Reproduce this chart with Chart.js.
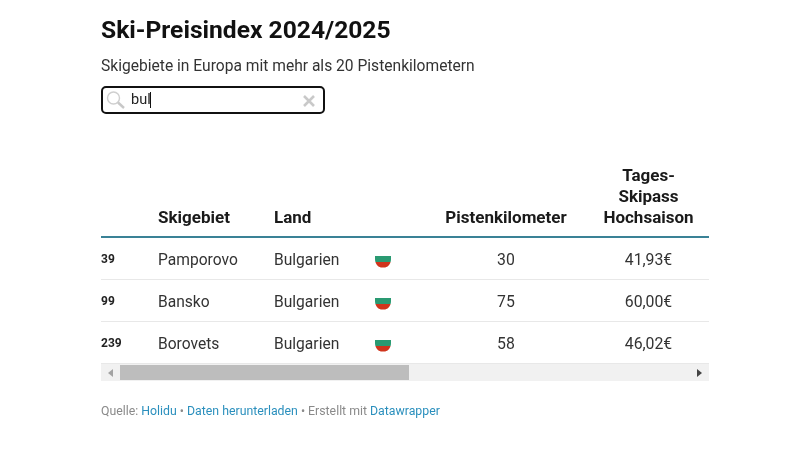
<!DOCTYPE html>
<html lang="de"><head><meta charset="utf-8">
<style>
html,body{margin:0;padding:0;background:#fff;width:800px;height:450px;overflow:hidden;font-family:Roboto,sans-serif}
#c{position:absolute;left:0;top:0;width:800px;height:450px}
.t{position:absolute;white-space:nowrap}
#title{left:101px;top:15px;font-size:24.6px;line-height:30px;font-weight:700;color:#111}
#sub{left:101px;top:56px;font-size:15.6px;line-height:20px;color:#333}
#box{position:absolute;left:101px;top:86px;width:220px;height:24px;border:2px solid #111;border-radius:5px;background:#fff}
#q{left:131px;top:91px;font-size:14.5px;line-height:18px;color:#222}
#caret{position:absolute;left:150px;top:92px;width:1px;height:16px;background:#111}
#track{position:absolute;left:101px;top:364px;width:608px;height:17px;background:#f1f1f1}
#thumb{position:absolute;left:120px;top:365px;width:289px;height:15px;background:#bdbdbd}
#la{position:absolute;left:108px;top:369px;border:4px solid transparent;border-left:0;border-right:5px solid #a3a3a3}
#ra{position:absolute;left:697px;top:369px;border:4px solid transparent;border-right:0;border-left:5px solid #444}
#foot{left:101px;top:404px;font-size:12.3px;line-height:15px;color:#8a8a8a}
#foot a{color:#2a8fbd;text-decoration:none}
svg{position:absolute}
</style></head><body>
<canvas id="c" width="800" height="450"></canvas>
<div class="t" id="title">Ski-Preisindex 2024/2025</div>
<div class="t" id="sub">Skigebiete in Europa mit mehr als 20 Pistenkilometern</div>
<div id="box"></div>
<svg style="left:105px;top:90px" width="22" height="20" viewBox="0 0 22 20"><circle cx="8.5" cy="8" r="6" fill="none" stroke="#cfcfcf" stroke-width="1.4"/><line x1="13" y1="12.5" x2="19" y2="18" stroke="#c8c8c8" stroke-width="2.4"/></svg>
<div class="t" id="q">bul</div><div id="caret"></div>
<svg style="left:302px;top:94px" width="14" height="14" viewBox="0 0 14 14"><path d="M2 2L12 12M12 2L2 12" stroke="#c9c9c9" stroke-width="2.6"/></svg>
<div id="track"></div><div id="thumb"></div><div id="la"></div><div id="ra"></div>
<div class="t" id="foot">Quelle: <a>Holidu</a> • <a>Daten herunterladen</a> • Erstellt mit <a>Datawrapper</a></div>
<script src="https://cdn.jsdelivr.net/npm/chart.js@4/dist/chart.umd.min.js"></script>
<script>
const ranks = [39, 99, 239];
const resorts = ['Pamporovo', 'Bansko', 'Borovets'];
const countries = ['Bulgarien', 'Bulgarien', 'Bulgarien'];
const pisteKm = [30, 75, 58];
const prices = [41.93, 60.00, 46.02];
const headers = [[], ['Skigebiet'], ['Land'], [], ['Pistenkilometer'], ['Tages-', 'Skipass', 'Hochsaison']];
const fmtPrice = v => v.toFixed(2).replace('.', ',') + '€';

// column anchors on the table's x scale
const colX = {rank: 0, resort: 57, land: 173, flag: 282, piste: 405, price: 547.5};

function flagIcon() {
  const c = document.createElement('canvas'); c.width = 16; c.height = 20;
  const g = c.getContext('2d');
  g.beginPath(); g.moveTo(0, 8); g.lineTo(16, 8); g.lineTo(16, 11);
  g.bezierCurveTo(16, 17, 12, 19.5, 9, 19.5); g.lineTo(7, 19.5); g.bezierCurveTo(4, 19.5, 0, 17, 0, 11); g.closePath(); g.clip();
  g.fillStyle = '#2a9a72'; g.fillRect(0, 8, 16, 6);
  g.fillStyle = '#d0341c'; g.fillRect(0, 14, 16, 6);
  return c;
}

const cellText = {
  id: 'cellText',
  afterDatasetsDraw(chart) {
    const {ctx, scales: {x, y}} = chart;
    ctx.save();
    ctx.textBaseline = 'middle';
    const put = (s, col, row, font, color, align, dy) => {
      ctx.font = font; ctx.fillStyle = color; ctx.textAlign = align;
      ctx.fillText(s, x.getPixelForValue(colX[col]), y.getPixelForValue(row) + dy);
    };
    resorts.forEach((r, i) => {
      put(String(ranks[i]), 'rank', i, '700 12px Roboto', '#222', 'left', 1.5);
      put(r, 'resort', i, '400 15.6px Roboto', '#333', 'left', 3);
      put(countries[i], 'land', i, '400 15.6px Roboto', '#333', 'left', 3);
      put(String(pisteKm[i]), 'piste', i, '400 15.8px Roboto', '#333', 'center', 3);
      put(fmtPrice(prices[i]), 'price', i, '400 15.8px Roboto', '#333', 'center', 3);
    });
    // header lines stack upward from the top of the first row
    const cols = ['rank', 'resort', 'land', 'flag', 'piste', 'price'];
    ctx.font = '700 17px Roboto'; ctx.fillStyle = '#1a1a1a';
    headers.forEach((lines, i) => {
      ctx.textAlign = i < 3 ? 'left' : 'center';
      lines.forEach((s, k) => {
        ctx.fillText(s, x.getPixelForValue(colX[cols[i]]), y.top - 18 - 21 * (lines.length - 1 - k));
      });
    });
    ctx.restore();
  }
};

new Chart(document.getElementById('c'), {
  type: 'scatter',
  data: {
    labels: resorts,
    datasets: [{
      label: 'Flagge',
      data: resorts.map(r => ({x: colX.flag, y: r})),
      pointStyle: flagIcon(),
      pointRadius: 8
    }]
  },
  options: {
    responsive: false, animation: false, devicePixelRatio: 1,
    layout: {padding: {left: 101, right: 91, top: 237, bottom: 87}},
    plugins: {legend: {display: false}, tooltip: {enabled: false}},
    scales: {
      x: {type: 'linear', min: 0, max: 608, display: false},
      y: {
        type: 'category', labels: resorts, offset: true,
        border: {display: false},
        ticks: {display: false},
        grid: {
          offset: true, drawTicks: false,
          color: c => c.index === 0 ? '#3a8296' : (c.index === 3 ? 'rgba(0,0,0,0)' : '#e8e8e8'),
          lineWidth: c => c.index === 0 ? 2 : 1
        }
      }
    }
  },
  plugins: [cellText]
});
</script>
</body></html>
